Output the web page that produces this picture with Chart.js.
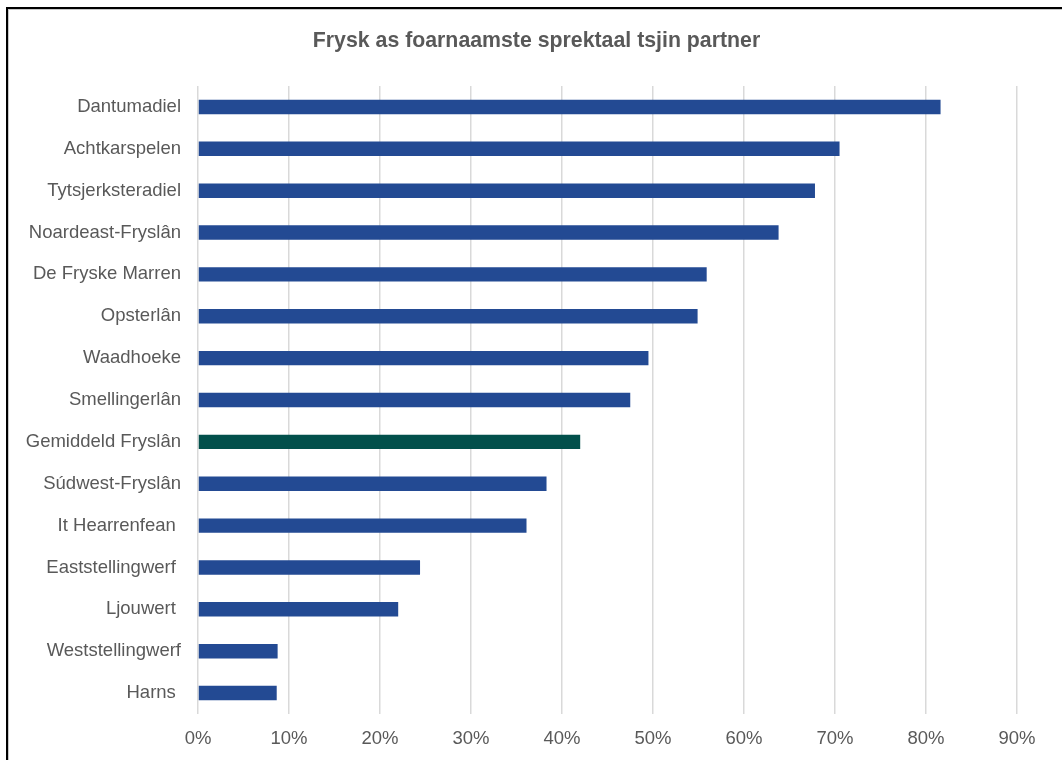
<!DOCTYPE html>
<html>
<head>
<meta charset="utf-8">
<script src="https://cdn.jsdelivr.net/npm/chart.js@4/dist/chart.umd.min.js"></script>
<style>
  html, body { margin: 0; padding: 0; background: #fff; overflow: hidden; }
  #wrap { position: relative; width: 1062px; height: 760px; }
  #frame {
    position: absolute; left: 6px; top: 7px; width: 1100px; height: 800px;
    border-top: 2px solid #000; border-left: 2px solid #000;
    box-shadow: inset 1px 1px 0 #c8c8c8;
    pointer-events: none;
  }
</style>
</head>
<body>
<div id="wrap">
  <canvas id="chart" width="1062" height="760"></canvas>
  <div id="frame"></div>
</div>
<script>
const titleText = "Frysk as foarnaamste sprektaal tsjin partner";

const municipalities = [
  "Dantumadiel", "Achtkarspelen", "Tytsjerksteradiel", "Noardeast-Fryslân",
  "De Fryske Marren", "Opsterlân", "Waadhoeke", "Smellingerlân",
  "Gemiddeld Fryslân", "Súdwest-Fryslân", "It Hearrenfean ", "Eaststellingwerf ",
  "Ljouwert ", "Weststellingwerf", "Harns "
];

// share (%) speaking Frisian with partner
const sharePct = [
  81.6, 70.5, 67.8, 63.8,
  55.9, 54.9, 49.5, 47.5,
  42.0, 38.3, 36.1, 24.4,
  22.0, 8.75, 8.65
];

const xTicks = [0, 10, 20, 30, 40, 50, 60, 70, 80, 90];

const BLUE = "#234a93";
const AVG = "#02504b";
const TEXT = "#595959";
const FONT = "'Liberation Sans', Arial, sans-serif";

const barColors = municipalities.map(m => m.startsWith("Gemiddeld") ? AVG : BLUE);

Chart.defaults.font.family = FONT;
Chart.defaults.color = TEXT;

// title is drawn by hand so it can sit off-centre like the original
const titlePlugin = {
  id: "titleText",
  afterDraw(chart) {
    const c = chart.ctx;
    c.save();
    c.font = "bold 21.3px " + FONT;
    c.fillStyle = TEXT;
    c.textAlign = "center";
    c.textBaseline = "middle";
    c.fillText(titleText, 536.5, 41);
    c.restore();
  },
};

const ctx = document.getElementById("chart").getContext("2d");
new Chart(ctx, {
  type: "bar",
  data: {
    labels: municipalities,
    datasets: [{
      data: sharePct,
      backgroundColor: barColors,
      borderWidth: 0,
      categoryPercentage: 1,
      barPercentage: 0.345,
    }],
  },
  plugins: [titlePlugin],
  options: {
    indexAxis: "y",
    responsive: false,
    animation: false,
    layout: { padding: { left: 0, right: 45, top: 86, bottom: 0 } },
    plugins: {
      legend: { display: false },
      tooltip: { enabled: false },
      title: { display: false },
    },
    scales: {
      x: {
        min: 0,
        max: 90,
        afterBuildTicks: scale => { scale.ticks = xTicks.map(v => ({ value: v })); },
        afterFit: scale => { scale.height = 46; },
        grid: { color: "#d9d9d9", lineWidth: 1.5, drawTicks: false },
        border: { display: false },
        ticks: {
          padding: 14,
          font: { size: 18.5 },
          callback: v => v + "%",
        },
      },
      y: {
        afterFit: scale => { scale.width = 198; },
        grid: { display: false, drawTicks: false },
        border: { display: false },
        ticks: { padding: 17, font: { size: 18.5 }, autoSkip: false },
      },
    },
  },
});
</script>
</body>
</html>
